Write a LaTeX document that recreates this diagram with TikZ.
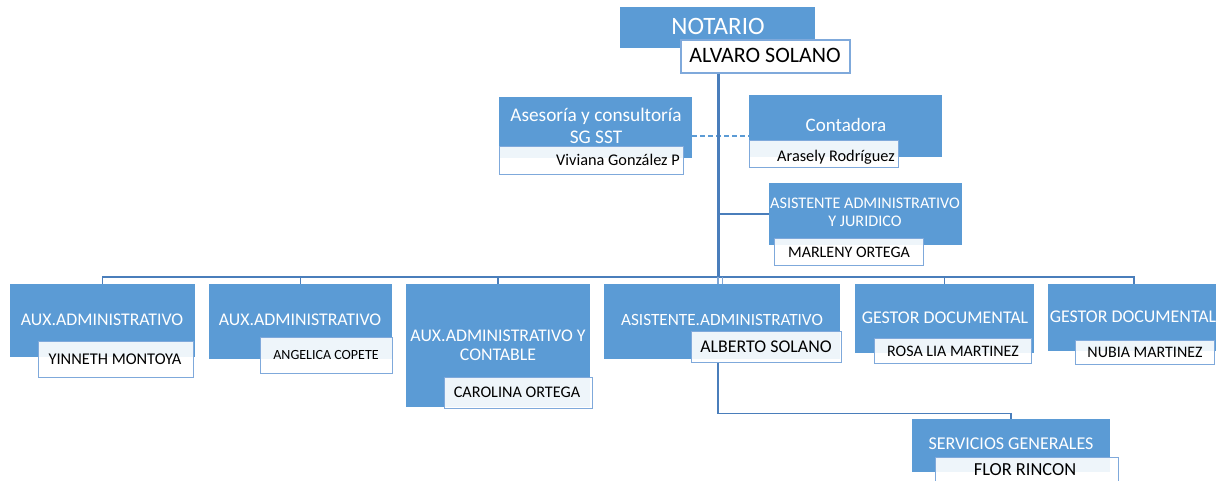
\documentclass[tikz,border=0pt]{standalone}
\usepackage{fontspec}
\setmainfont{Carlito}
\definecolor{boxblue}{HTML}{5B9BD5}
\definecolor{linkblue}{HTML}{4A7EBB}
\definecolor{namebd}{HTML}{7FA9DB}
\definecolor{droplight}{HTML}{7EA6D6}
\newcommand\fsz[1]{\fontsize{#1}{#1}\selectfont}
\newcommand\boxat[6]{\node[#6, minimum width=\fpeval{#4-#2}pt, minimum height=\fpeval{#5-#3}pt] (#1) at (#2,#3) {};}
\newcommand\tx[6]{\node[#5, font=\fsz{#4}, text height=\fpeval{0.64*#4}pt, text depth=0pt] (#1) at (#2,#3) {#6};}
\tikzset{
  role/.style={fill=boxblue, draw=none, inner sep=0pt, anchor=north west},
  namebox/.style={fill=white, fill opacity=0.9, draw=namebd, draw opacity=1, line width=1.3pt, inner sep=0pt, anchor=north west},
  whitebox/.style={fill=white, draw=namebd, line width=1.5pt, inner sep=0pt, anchor=north west},
  txt/.style={inner sep=0pt, anchor=center},
  wtxt/.style={txt, text=white},
  btxt/.style={txt, text=black},
  trunk/.style={draw=linkblue, line width=3pt},
  bus/.style={draw=linkblue, line width=1.5pt},
  droplink/.style={draw=droplight, line width=1.2pt},
  dashlink/.style={draw=boxblue, line width=1.2pt, dash pattern=on 5pt off 3pt}
}
\begin{document}
\begin{tikzpicture}[x=1pt,y=-1pt]
\clip (0,0) rectangle (1216,480);
\fill[white] (0,0) rectangle (1216,480);
% top
\boxat{not}{620}{7}{815}{48}{role}
\boxat{alv}{680}{39}{849}{72}{whitebox}
\tx{tnot}{718}{26}{25}{wtxt}{NOTARIO}
\tx{talv}{765}{55}{22}{btxt}{ALVARO SOLANO}
% staff
\boxat{ase}{499}{97}{692}{158}{role}
\boxat{viv}{499}{146}{683}{174}{namebox}
\tx{tase1}{596}{115}{19.3}{wtxt}{Asesoría y consultoría}
\tx{tase2}{596}{137}{19.3}{wtxt}{SG SST}
\tx{tviv}{618}{160}{16.3}{btxt}{Viviana González P}
\boxat{cont}{749}{95}{942}{157}{role}
\boxat{ara}{749}{140}{898}{167}{namebox}
\tx{tcont}{846}{125}{19}{wtxt}{Contadora}
\tx{tara}{836}{156}{16.3}{btxt}{Arasely Rodríguez}
\boxat{jur}{769}{183}{962}{245}{role}
\boxat{mar}{774}{238}{923}{265}{namebox}
\tx{tjur1}{865}{203}{16.2}{wtxt}{ASISTENTE ADMINISTRATIVO}
\tx{tjur2}{865}{221}{16.2}{wtxt}{Y JURIDICO}
\tx{tmar}{849}{252}{16}{btxt}{MARLENY ORTEGA}
% bottom row
\boxat{b1}{10}{284}{195}{357}{role}
\boxat{n1}{38}{341}{193}{377}{namebox}
\tx{t1}{102}{320}{17.8}{wtxt}{AUX.ADMINISTRATIVO}
\tx{tn1}{115}{359}{16.4}{btxt}{YINNETH MONTOYA}
\boxat{b2}{209}{284}{392}{359}{role}
\boxat{n2}{260}{337}{392}{373}{namebox}
\tx{t2}{300}{320}{17.8}{wtxt}{AUX.ADMINISTRATIVO}
\tx{tn2}{326}{355}{14}{btxt}{ANGELICA COPETE}
\boxat{b3}{406}{284}{590}{407}{role}
\boxat{n3}{444}{377}{592}{408}{namebox}
\tx{t3a}{498}{336}{17.8}{wtxt}{AUX.ADMINISTRATIVO Y}
\tx{t3b}{498}{355}{17.8}{wtxt}{CONTABLE}
\tx{tn3}{517}{392}{16.2}{btxt}{CAROLINA ORTEGA}
\boxat{b4}{604}{284}{840}{359}{role}
\boxat{alb}{691}{331}{841}{362}{namebox}
\tx{t4}{722}{320}{17.2}{wtxt}{ASISTENTE.ADMINISTRATIVO}
\tx{tn4}{766}{347}{17.9}{btxt}{ALBERTO SOLANO}
\boxat{b5}{855}{284}{1034}{353}{role}
\boxat{n5}{874}{338}{1031}{363}{namebox}
\tx{t5}{945}{318}{17.9}{wtxt}{GESTOR DOCUMENTAL}
\tx{tn5}{953}{351}{16}{btxt}{ROSA LIA MARTINEZ}
\boxat{b6}{1048}{284}{1220}{351}{role}
\boxat{n6}{1075}{340}{1214}{364}{namebox}
\tx{t6}{1133}{317}{17.9}{wtxt}{GESTOR DOCUMENTAL}
\tx{tn6}{1145}{352}{16}{btxt}{NUBIA MARTINEZ}
\boxat{sg}{912}{419}{1110}{472}{role}
\boxat{flor}{935}{457}{1118}{492}{namebox}
\tx{t7}{1011}{444}{18}{wtxt}{SERVICIOS GENERALES}
\tx{tn7}{1025}{470}{18.4}{btxt}{FLOR RINCON}
% connectors
\coordinate (hub) at (718,277);
\coordinate (jhub) at (718,214);
\coordinate (dl) at (700,136);
\draw[dashlink] (ase.east |- dl) -- (cont.west |- dl);
\draw[bus] (jhub) -- (jur.west |- jhub);
\draw[bus] (hub) -| (b1.north);
\draw[bus] (hub) -| (b2.north);
\draw[bus] (hub) -| (b3.north);
\draw[bus] (hub) -| (b5.north);
\draw[bus] (hub) -| (b6.north);
\draw[droplink] (hub) -- (hub |- b4.north);
\draw[droplink] (b4.north |- hub) -- (b4.north);
\draw[trunk] (alv.south -| hub) -- (hub);
\draw[bus] (alb.south -| hub) -- ++(0,50) -| (sg.north);
\end{tikzpicture}
\end{document}
